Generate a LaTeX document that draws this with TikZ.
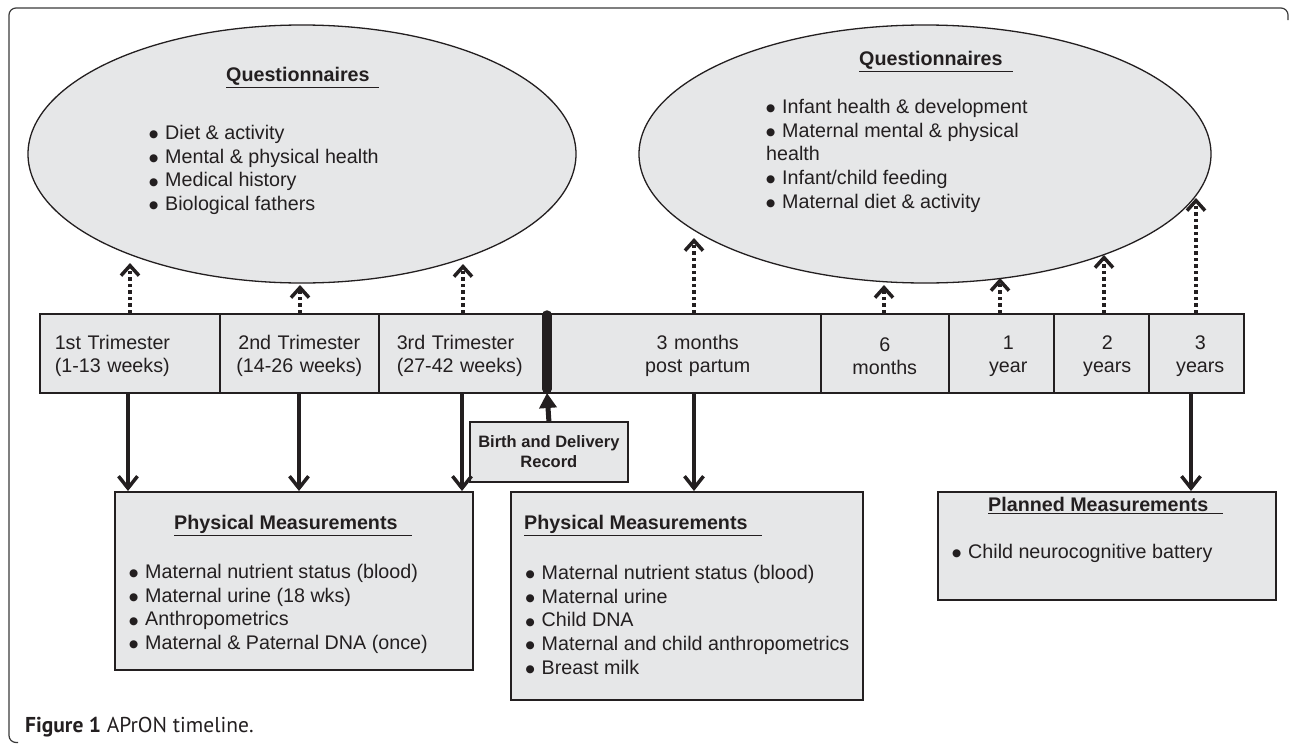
\documentclass[tikz,border=0pt]{standalone}
\usepackage{fontspec}
\setmainfont{Liberation Sans}
\newfontfamily\symf{DejaVu Sans}
\newfontfamily\capf{PT Sans}
\usetikzlibrary{arrows.meta,shapes.geometric}
\definecolor{boxgray}{HTML}{E6E7E8}
\definecolor{ink}{HTML}{231F20}
\definecolor{framec}{HTML}{3A3A3A}
\newcommand\bul{\makebox[16pt][l]{\raisebox{1.8pt}{\symf\fontsize{10.5}{10}\selectfont ●}}}
\newcommand\cst{\rule{0pt}{20.5pt}}
\begin{document}
\begin{tikzpicture}[x=1pt,y=-1pt,
  every node/.style={inner sep=0pt, text=ink},
  cellbox/.style={draw=ink, fill=boxgray, line width=1.5, anchor=north west, minimum height=79, inner ysep=0pt, font=\fontsize{19.7}{23}\selectfont},
  mbox/.style={draw=ink, fill=boxgray, line width=1.8, anchor=north west},
  oval/.style={ellipse, draw=ink, fill=boxgray, line width=1.3},
  ttl/.style={anchor=base west, font=\bfseries\fontsize{19.7}{23.7}\selectfont},
  lst/.style={anchor=base west, align=left, font=\fontsize{19.7}{23.7}\selectfont},
  qarrow/.style={draw=ink, line width=3.5, dash pattern=on 3.5pt off 3pt, -{Straight Barb[length=10pt,width=18pt]}},
  marrow/.style={draw=ink, line width=3.5, -{Straight Barb[length=12pt,width=19pt]}},
]
\useasboundingbox (0,0) rectangle (1290,744);
% frame
\draw[framec, line width=1.2, rounded corners=7] (18,742.5) -- (9,742.5) -- (9,8) -- (1288,8) -- (1288,20);

% questionnaire ovals (list anchors are at the baseline of the last line)
\node[oval, minimum width=548, minimum height=258] (qL) at (302,154) {};
\node[oval, minimum width=572, minimum height=258] (qR) at (925,154) {};
\node[ttl] (qLt) at (226,81.5) {\underline{Questionnaires\hspace{9pt}}};
\node[lst] (qLl) at (149,210.6) {\bul Diet \& activity\\ \bul Mental \& physical health\\ \bul Medical history\\ \bul Biological fathers};
\node[ttl] (qRt) at (859,65.5) {\underline{Questionnaires\hspace{10pt}}};
\node[lst] (qRl) at (766,208.3) {\bul Infant health \& development\\ \bul Maternal mental \& physical\\ health\\ \bul Infant/child feeding\\ \bul Maternal diet \& activity};

% timeline cells
\node[cellbox, text width=150, inner xsep=15, align=left] (c1) at (39,313) {\cst1st Trimester\\(1-13 weeks)};
\node[cellbox, text width=159, inner xsep=0, align=center] (c2) at (219,313) {\cst2nd Trimester\\(14-26 weeks)};
\node[cellbox, text width=133, inner xsep=18, align=left] (c3) at (378,313) {\cst3rd Trimester\\(27-42 weeks)};
\node[cellbox, text width=273, inner xsep=0, align=center] (c4) at (547,313) {\cst\hspace*{27pt}3 months\\\hspace*{27pt}post partum};
\node[cellbox, text width=128, inner xsep=0, align=center] (c5) at (820,313) {\cst6\\months};
\node[cellbox, text width=105, inner xsep=0, align=center] (c6) at (948,313) {\cst\hspace*{14pt}1\\\hspace*{14pt}year};
\node[cellbox, text width=95, inner xsep=0, align=center] (c7) at (1053,313) {\cst\hspace*{12pt}2\\\hspace*{12pt}years};
\node[cellbox, text width=95, inner xsep=0, align=center] (c8) at (1148,313) {\cst\hspace*{8pt}3\\\hspace*{8pt}years};

% birth bar
\draw[ink, line width=9.5, line cap=round] (547,315) -- (547,389);
\coordinate (barB) at (547,393);

% measurement boxes
\node[mbox, minimum width=358, minimum height=178] (pm1) at (114,491) {};
\node[mbox, minimum width=352, minimum height=208] (pm2) at (510,491) {};
\node[mbox, minimum width=338, minimum height=108] (pl) at (937,491) {};
\node[mbox, minimum width=158, minimum height=60, align=center, font=\bfseries\fontsize{16.5}{20}\selectfont] (birth) at (469,421) {Birth and Delivery\\Record};

\node[ttl] (pm1t) at (174,529.5) {\underline{Physical Measurements\hspace{14pt}}};
\node[lst] (pm1l) at (129,649.6) {\bul Maternal nutrient status (blood)\\ \bul Maternal urine (18 wks)\\ \bul Anthropometrics\\ \bul Maternal \& Paternal DNA (once)};
\node[ttl] (pm2t) at (524,529.5) {\underline{Physical Measurements\hspace{14pt}}};
\node[lst] (pm2l) at (525.5,674.3) {\bul Maternal nutrient status (blood)\\ \bul Maternal urine\\ \bul Child DNA\\ \bul Maternal and child anthropometrics\\ \bul Breast milk};
\node[ttl] (plt) at (988,511.5) {\underline{Planned Measurements\hspace{15pt}}};
\node[lst] (pll) at (952,558.5) {\bul Child neurocognitive battery};

% dotted arrows up to questionnaires
\coordinate (t1) at (130,263);
\coordinate (t2) at (300,285);
\coordinate (t3) at (463,264);
\coordinate (t4) at (694,238);
\coordinate (t5) at (884,285);
\coordinate (t6) at (1000,278);
\coordinate (t7) at (1104,255);
\coordinate (t8) at (1196,198);
\draw[qarrow] (t1 |- c1.north) -- (t1);
\draw[qarrow] (t2 |- c2.north) -- (t2);
\draw[qarrow] (t3 |- c3.north) -- (t3);
\draw[qarrow] (t4 |- c4.north) -- (t4);
\draw[qarrow] (t5 |- c5.north) -- (t5);
\draw[qarrow] (t6 |- c6.north) -- (t6);
\draw[qarrow] (t7 |- c7.north) -- (t7);
\draw[qarrow] (t8 |- c8.north) -- (t8);

% solid arrows down to measurements
\coordinate (d1) at (128,400);
\coordinate (d2) at (299,400);
\coordinate (d3) at (462,400);
\coordinate (d4) at (694,400);
\coordinate (d5) at (1191,400);
\draw[marrow] (d1 |- c1.south) -- (d1 |- pm1.north);
\draw[marrow] (d2 |- c2.south) -- (d2 |- pm1.north);
\draw[marrow] (d3 |- c3.south) -- (d3 |- pm1.north);
\draw[marrow] (d4 |- c4.south) -- (d4 |- pm2.north);
\draw[marrow] (d5 |- c8.south) -- (d5 |- pl.north);

% birth record arrow
\draw[ink, line width=5, -{Triangle[length=15pt,width=17pt]}] (birth.north) -- (barB);

% caption
\node[anchor=base west, font=\capf\fontsize{21.5}{24}\selectfont] (cap) at (25,732) {\textbf{Figure 1} APrON timeline.};
\end{tikzpicture}
\end{document}
